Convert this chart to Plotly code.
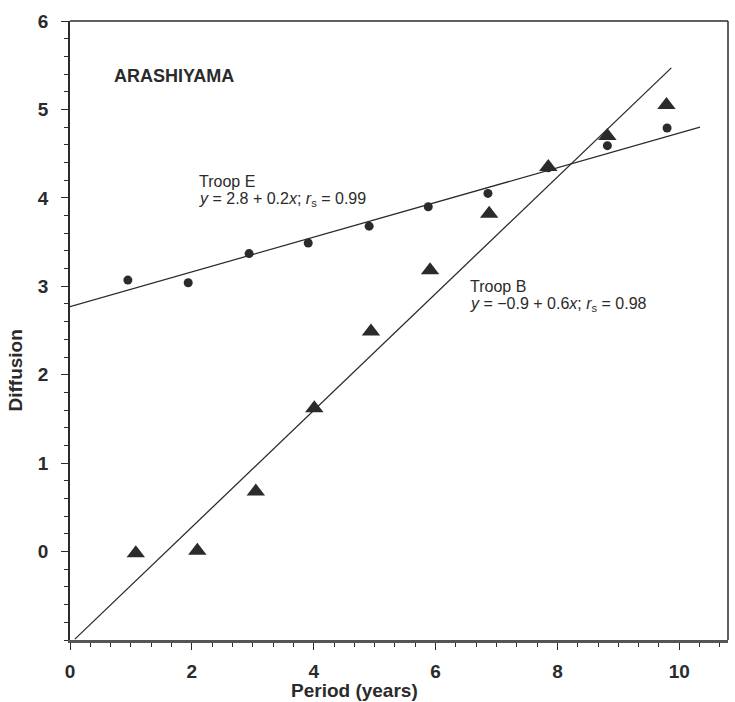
import plotly.graph_objects as go

# Troop E (circles) and Troop B (triangles)
years_e = [0.95, 1.94, 2.94, 3.91, 4.91, 5.88, 6.86, 7.85, 8.82, 9.80]
diff_e = [3.07, 3.04, 3.37, 3.49, 3.68, 3.90, 4.05, 4.34, 4.59, 4.79]
years_b = [1.08, 2.09, 3.05, 4.01, 4.94, 5.91, 6.88, 7.85, 8.82, 9.79]
diff_b = [-0.02, 0.01, 0.68, 1.62, 2.49, 3.18, 3.82, 4.35, 4.70, 5.05]

# fitted lines as drawn (end points)
fit_e_x = [0.0, 10.34]
fit_e_y = [2.77, 4.80]
fit_b_x = [0.08, 9.87]
fit_b_y = [-0.99, 5.47]

x_ticks = [0, 2, 4, 6, 8, 10]
y_ticks = [0, 1, 2, 3, 4, 5, 6]

INK = "#2b2b2b"
FONT = "Liberation Sans, Arial, Helvetica, sans-serif"

fig = go.Figure()
fig.add_trace(go.Scatter(x=fit_e_x, y=fit_e_y, mode="lines",
                         line=dict(color=INK, width=1.3), showlegend=False))
fig.add_trace(go.Scatter(x=fit_b_x, y=fit_b_y, mode="lines",
                         line=dict(color=INK, width=1.3), showlegend=False))
fig.add_trace(go.Scatter(x=years_e, y=diff_e, mode="markers",
                         marker=dict(symbol="circle", size=9, color=INK),
                         showlegend=False))
fig.add_trace(go.Scatter(x=years_b, y=diff_b, mode="markers",
                         marker=dict(symbol="triangle-up", size=16, color=INK),
                         showlegend=False))

tickfont = dict(family=FONT, size=19, color=INK, weight="bold")
fig.update_xaxes(range=[0, 10.8], tickvals=x_ticks, ticktext=[str(v) for v in x_ticks],
                 ticks="outside", ticklen=7, tickwidth=1.2, tickcolor=INK,
                 minor=dict(dtick=1/3, ticks="outside", ticklen=4, tickcolor=INK, tickwidth=1),
                 showline=True, linewidth=2.5, linecolor="#555", mirror=False,
                 showgrid=False, zeroline=False, tickfont=tickfont,
                 ticklabelstandoff=5)
fig.update_yaxes(range=[-1, 6], tickvals=y_ticks, ticktext=[str(v) for v in y_ticks],
                 ticks="outside", ticklen=7, tickwidth=1.2, tickcolor=INK,
                 minor=dict(dtick=0.2, ticks="outside", ticklen=4, tickcolor=INK, tickwidth=1),
                 showline=True, linewidth=1.5, linecolor=INK, mirror=False,
                 showgrid=False, zeroline=False, tickfont=tickfont,
                 ticklabelstandoff=9)

# top and right frame lines
fig.add_shape(type="line", xref="paper", yref="paper", x0=0, x1=1, y0=1, y1=1,
              line=dict(color=INK, width=1.5))
fig.add_shape(type="line", xref="paper", yref="paper", x0=1, x1=1, y0=0, y1=1,
              line=dict(color=INK, width=1.5))

ann_font = dict(family=FONT, size=16, color=INK)
fig.add_annotation(x=0.69, y=5.38, text="ARASHIYAMA", showarrow=False,
                   xanchor="left", yanchor="middle",
                   font=dict(family=FONT, size=18, color=INK, weight="bold"))
fig.add_annotation(x=2.08, y=4.19, text="Troop E", showarrow=False,
                   xanchor="left", yanchor="middle", font=ann_font)
fig.add_annotation(x=2.08, y=3.98,
                   text="<i>y</i> = 2.8 + 0.2<i>x</i>; <i>r</i><sub>s</sub> = 0.99",
                   showarrow=False, xanchor="left", yanchor="middle", font=ann_font)
fig.add_annotation(x=6.53, y=3.00, text="Troop B", showarrow=False,
                   xanchor="left", yanchor="middle", font=ann_font)
fig.add_annotation(x=6.53, y=2.79,
                   text="<i>y</i> = \u22120.9 + 0.6<i>x</i>; <i>r</i><sub>s</sub> = 0.98",
                   showarrow=False, xanchor="left", yanchor="middle", font=ann_font)

# axis titles
fig.add_annotation(xref="paper", yref="paper", x=-0.083, y=0.436, text="Diffusion",
                   textangle=-90, showarrow=False, xanchor="center", yanchor="middle",
                   font=dict(family=FONT, size=19, color=INK, weight="bold"))
fig.add_annotation(xref="paper", yref="paper", x=0.433, y=-0.081, text="Period (years)",
                   showarrow=False, xanchor="center", yanchor="middle",
                   font=dict(family=FONT, size=19, color=INK, weight="bold"))

fig.update_layout(width=735, height=702,
                  margin=dict(l=70, r=7, t=21, b=62),
                  paper_bgcolor="white", plot_bgcolor="white",
                  showlegend=False)

fig.write_html("out.html")
